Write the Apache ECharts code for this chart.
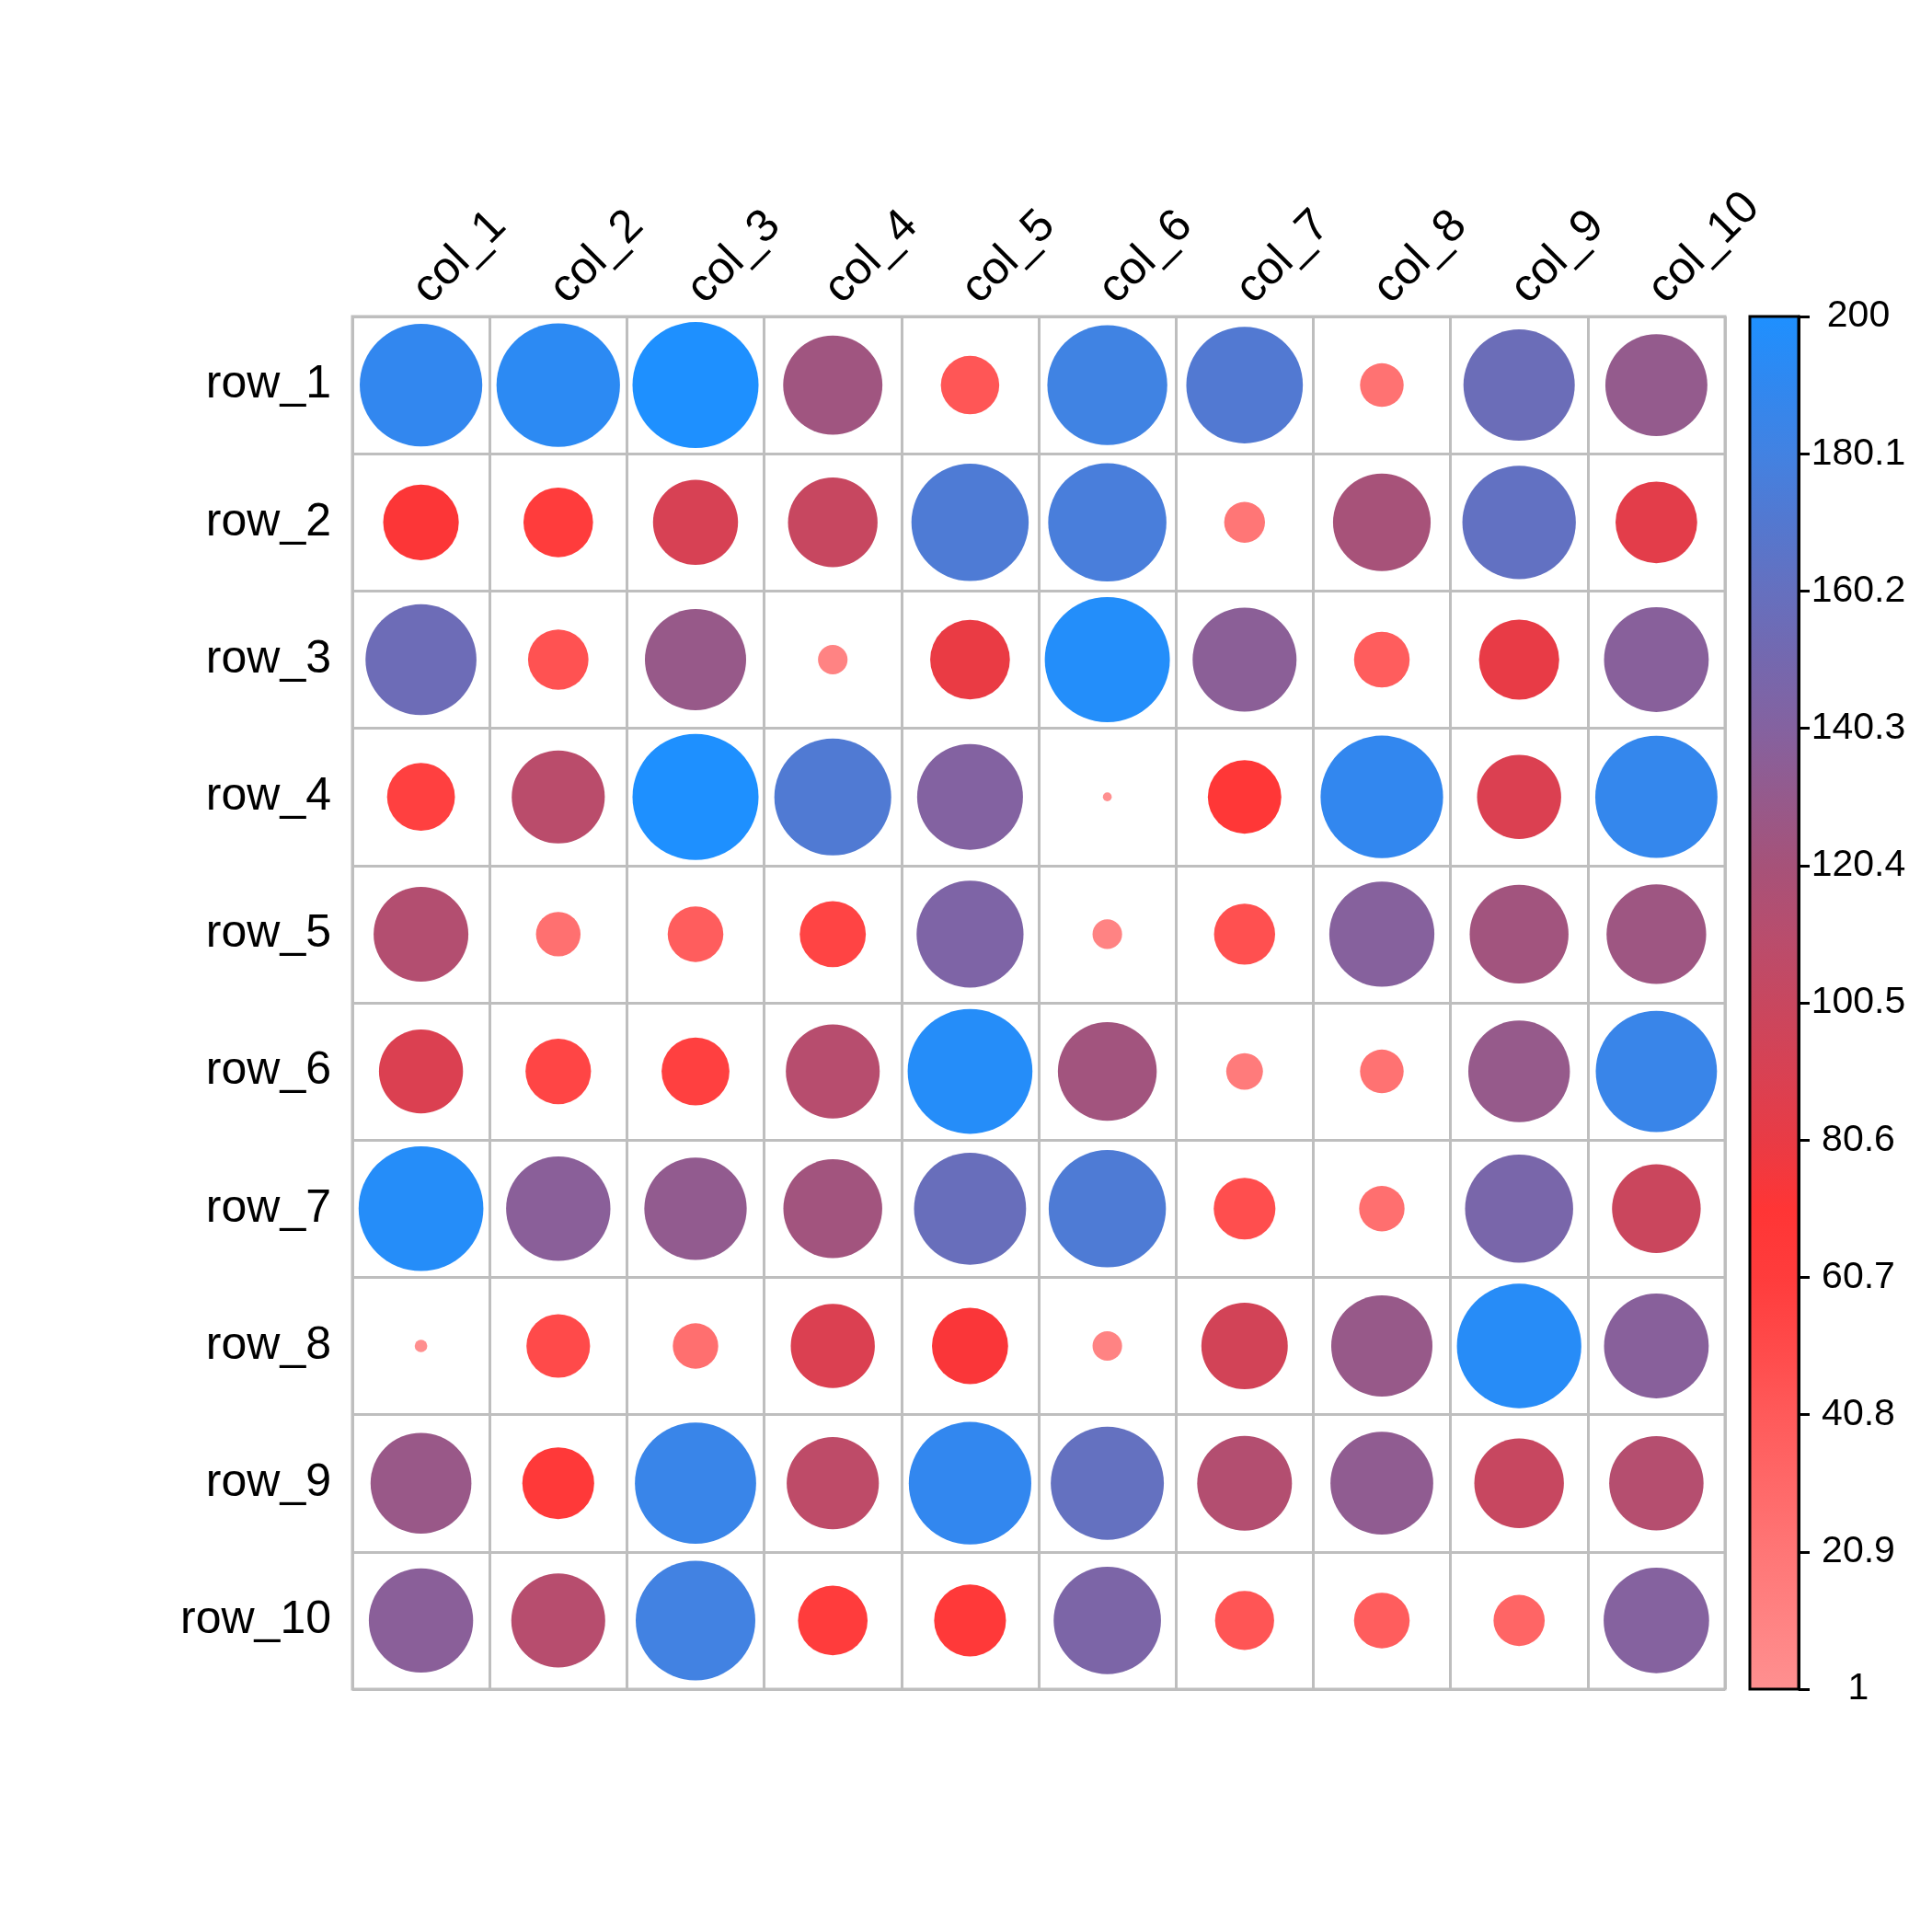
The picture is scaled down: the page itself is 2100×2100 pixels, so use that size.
<!DOCTYPE html>
<html>
<head>
<meta charset="utf-8">
<script src="https://cdn.jsdelivr.net/npm/echarts/dist/echarts.min.js"></script>
<style>
html, body { margin: 0; padding: 0; background: #ffffff; }
#chart { width: 2100px; height: 2100px; }
</style>
</head>
<body>
<div id="chart"></div>
<script>
// ---- data ----
const cols = ['col_1', 'col_2', 'col_3', 'col_4', 'col_5', 'col_6', 'col_7', 'col_8', 'col_9', 'col_10'];
const rows = ['row_1', 'row_2', 'row_3', 'row_4', 'row_5', 'row_6', 'row_7', 'row_8', 'row_9', 'row_10'];

const row1  = [189, 192, 200, 124, 43, 181, 171, 24, 156, 131];
const row2  = [72, 61, 91, 101, 173, 176, 21, 120, 162, 84];
const row3  = [155, 46, 129, 11, 80, 197, 136, 39, 81, 138];
const row4  = [58, 109, 200, 172, 141, 1, 68, 189, 89, 188];
const row5  = [113, 25, 39, 55, 144, 11, 47, 139, 123, 125];
const row6  = [89, 54, 58, 111, 196, 123, 17, 24, 130, 185];
const row7  = [196, 137, 132, 123, 158, 173, 48, 26, 147, 99];
const row8  = [2, 51, 26, 89, 73, 11, 94, 129, 195, 138];
const row9  = [128, 65, 185, 107, 189, 161, 113, 133, 101, 112];
const row10 = [137, 111, 180, 61, 65, 145, 44, 39, 33, 140];

const colorbarTicks = [1, 20.9, 40.8, 60.7, 80.6, 100.5, 120.4, 140.3, 160.2, 180.1, 200];
// palette sampled at 21 evenly spaced values from 1 to 200
const paletteColors = ['#FF9090', '#FF8383', '#FF7676', '#FF6868', '#FF5A5A', '#FF4A4A',
                       '#FF3C3C', '#FF3535', '#E93B45', '#D84153', '#C8475F', '#B84D6D',
                       '#A65279', '#955A8C', '#8462A0', '#7468AF', '#6570BF', '#5378D0',
                       '#4282E2', '#3088F0', '#1E90FF'];
const valueMin = 1;
const valueMax = 200;

// ---- build ----
const matrix = [row1, row2, row3, row4, row5, row6, row7, row8, row9, row10];
const points = [];
matrix.forEach((r, ri) => r.forEach((v, ci) => points.push([ci, ri, v])));

const gradientStops = paletteColors.map((c, i) => ({ offset: i / (paletteColors.length - 1), color: c }));

const FONT = 'Liberation Sans, Arial, Helvetica, sans-serif';
const GRID_L = 383, GRID_T = 344, GRID_W = 1492, GRID_H = 1492;
const MAX_D = 137;

const chart = echarts.init(document.getElementById('chart'), null, { renderer: 'canvas' });
chart.setOption({
  animation: false,
  backgroundColor: '#ffffff',
  grid: [
    { left: GRID_L, top: GRID_T, width: GRID_W, height: GRID_H, show: true,
      borderColor: '#bebebe', borderWidth: 3, backgroundColor: 'transparent', containLabel: false },
    { left: 1902, top: GRID_T, width: 53, height: GRID_H, show: true,
      borderColor: '#000000', borderWidth: 3,
      backgroundColor: { type: 'linear', x: 0, y: 1, x2: 0, y2: 0, colorStops: gradientStops } }
  ],
  xAxis: [
    { type: 'category', data: cols, position: 'top', gridIndex: 0,
      axisLine: { show: false }, axisTick: { show: false },
      splitLine: { show: true, interval: 0, lineStyle: { color: '#bebebe', width: 3 } },
      axisLabel: { interval: 0, rotate: -45, align: 'left', verticalAlign: 'middle', margin: 22,
                   fontSize: 50, color: '#000000', fontFamily: FONT } },
    { type: 'value', gridIndex: 1, show: false, min: 0, max: 1 }
  ],
  yAxis: [
    { type: 'category', data: rows, inverse: true, gridIndex: 0,
      axisLine: { show: false }, axisTick: { show: false },
      splitLine: { show: true, interval: 0, lineStyle: { color: '#bebebe', width: 3 } },
      axisLabel: { interval: 0, margin: 23, fontSize: 50, color: '#000000', fontFamily: FONT } },
    { type: 'value', gridIndex: 1, position: 'right', min: valueMin, max: valueMax, z: 10,
      splitLine: { show: false },
      axisLine: { show: true, onZero: false, lineStyle: { color: '#000000', width: 3 } },
      axisTick: { show: true, inside: false, length: 12, customValues: colorbarTicks, lineStyle: { color: '#000000', width: 3 } },
      axisLabel: { customValues: colorbarTicks, align: 'center', margin: 65, fontSize: 41,
                   color: '#000000', fontFamily: FONT, formatter: (v) => String(+(+v).toFixed(1)) } }
  ],
  visualMap: {
    show: false, type: 'continuous', min: valueMin, max: valueMax, dimension: 2, seriesIndex: 0,
    inRange: { color: paletteColors }
  },
  series: [{
    type: 'scatter', xAxisIndex: 0, yAxisIndex: 0, symbol: 'circle',
    symbolSize: (val) => MAX_D * Math.sqrt(val[2] / valueMax),
    data: points,
    itemStyle: { opacity: 1 },
    emphasis: { disabled: true }
  }]
});
</script>
</body>
</html>
